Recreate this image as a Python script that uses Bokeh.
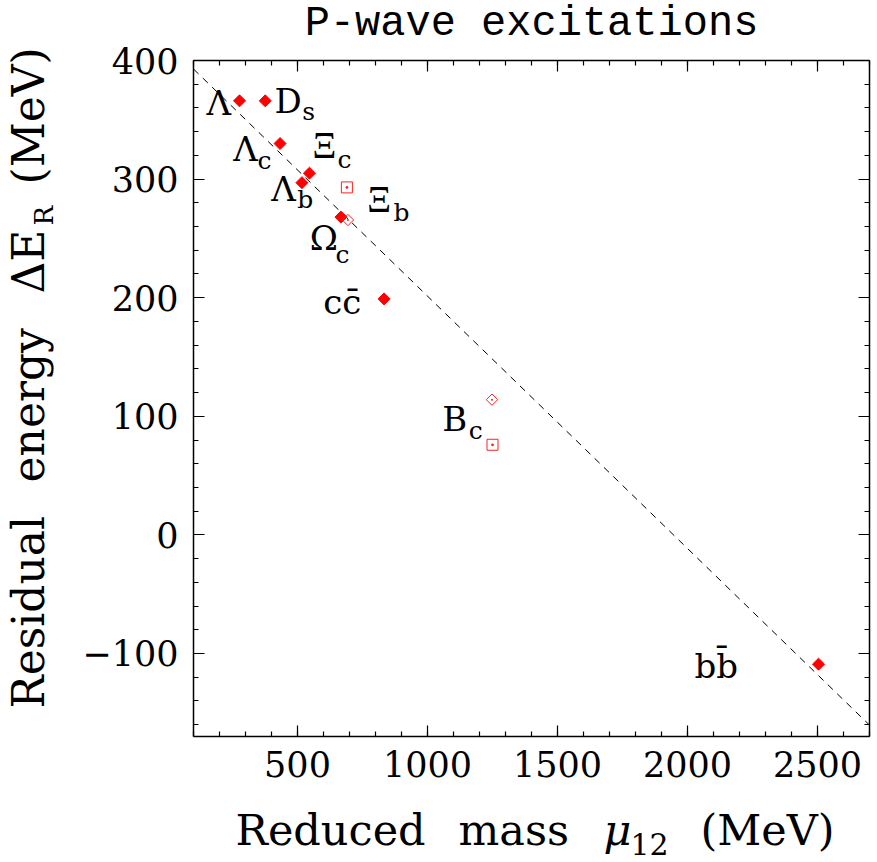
from math import pi
from bokeh.plotting import figure
from bokeh.models import Range1d, LinearAxis, Label, FixedTicker
from bokeh.embed import file_html
from bokeh.resources import INLINE

# ---- data ----
filled_mu = [277, 376, 433, 546, 517, 667, 833, 2504]
filled_dE = [366, 366, 330, 305, 297, 268, 199, -109]
open_diamond_mu = [694, 1248]
open_diamond_dE = [265.5, 114]
open_square_mu = [690, 1250]
open_square_dE = [293, 76]
fit_mu = [100, 2700]
fit_dE = [392.8, -160.4]

x_lim = (100, 2700)
y_lim = (-170, 400)
x_ticks = [500, 1000, 1500, 2000, 2500]
x_minor = list(range(100, 2701, 100))
y_ticks = [-100, 0, 100, 200, 300, 400]
y_minor = list(range(-160, 401, 20))

SERIF = "DejaVu Serif"
TIMES = "Liberation Serif"

# labels: (text, x, y, size, font)
point_labels = [
    ("Λ", 150, 355.3, 34, SERIF),
    ("D", 411.5, 357.3, 34, SERIF), ("s", 518, 350.3, 25, SERIF),
    ("Λ", 252.7, 316.3, 34, SERIF), ("c", 346, 309, 25, SERIF),
    ("Ξ", 557.7, 318.3, 37, TIMES), ("c", 654, 310, 25, SERIF),
    ("Λ", 399, 283, 34, SERIF), ("b", 499, 276.4, 25, SERIF),
    ("Ξ", 768, 272.8, 37, TIMES), ("b", 869, 265, 25, SERIF),
    ("Ω", 547, 241.4, 34, SERIF), ("c", 646, 230, 25, SERIF),
    ("cc\u0304", 599, 187.7, 34, SERIF),
    ("B", 1056.5, 88.9, 34, SERIF), ("c", 1159, 81.3, 25, SERIF),
    ("bb\u0304", 2027, -119.5, 34, SERIF),
]

K = 0.31   # baseline correction (fraction of font size)
W, H = 877, 862
BOX_L, BOX_R, BOX_T, BOX_B = 193, 869, 60, 736   # box edges in canvas pixels

# the drawing frame covers the whole canvas; the visible box is made by axes at fixed locations
sx = (BOX_R - BOX_L) / (x_lim[1] - x_lim[0])
sy = (BOX_B - BOX_T) / (y_lim[1] - y_lim[0])
x_range = Range1d(x_lim[0] - BOX_L / sx, x_lim[1] + (W - BOX_R) / sx)
y_range = Range1d(y_lim[0] - (H - BOX_B) / sy, y_lim[1] + BOX_T / sy)

p = figure(width=W, height=H, x_range=x_range, y_range=y_range,
           output_backend="svg", toolbar_location=None, x_axis_type=None, y_axis_type=None,
           min_border=0, min_border_left=0, min_border_right=0, min_border_top=0,
           min_border_bottom=0)
p.title.text = ""
p.title.visible = False
p.grid.visible = False
p.outline_line_color = None
p.background_fill_color = "white"
p.border_fill_color = "white"


def make_axis(ticks, minor, bounds, loc, labels, standoff):
    ax = LinearAxis(fixed_location=loc, bounds=bounds)
    ax.ticker = FixedTicker(ticks=ticks, minor_ticks=minor)
    ax.major_tick_in = 11
    ax.major_tick_out = 0
    ax.minor_tick_in = 5
    ax.minor_tick_out = 0
    ax.axis_line_width = 1.5
    ax.major_tick_line_width = 1.2
    ax.minor_tick_line_width = 1.2
    ax.axis_label = None
    if labels:
        ax.major_label_text_font = SERIF
        ax.major_label_text_font_size = "35px"
        ax.major_label_text_color = "black"
        ax.major_label_standoff = standoff
    else:
        ax.major_label_text_font_size = "0px"
        ax.major_label_text_alpha = 0
        ax.major_label_standoff = 0
    return ax


p.add_layout(make_axis(x_ticks, x_minor, x_lim, y_lim[0], True, 14), "below")
p.add_layout(make_axis(y_ticks, y_minor, y_lim, x_lim[0], True, 15), "left")
p.add_layout(make_axis(x_ticks, x_minor, x_lim, y_lim[1], False, 0), "above")
p.add_layout(make_axis(y_ticks, y_minor, y_lim, x_lim[1], False, 0), "right")

# fit line
p.line(fit_mu, fit_dE, line_color="black", line_width=1, line_dash="7 6")

# markers
p.scatter(filled_mu, filled_dE, marker="square", size=8.5, angle=pi / 4,
          fill_color="#ff0000", line_color="#ff0000")
p.scatter(open_diamond_mu, open_diamond_dE, marker="square_dot", size=8, angle=pi / 4,
          fill_color=None, line_color="#ff2020", line_width=1)
p.scatter(open_square_mu, open_square_dE, marker="square_dot", size=11,
          fill_color=None, line_color="#ff2020", line_width=1)

for txt, x, y, sz, fnt in point_labels:
    p.add_layout(Label(x=x, y=y, y_offset=K * sz, text=txt, text_font=fnt,
                       text_font_size=f"{sz}px", text_align="left",
                       text_baseline="alphabetic", text_color="black"))


# canvas-pixel helper for the titles around the box
def put(text, px, py, size, angle=0.0, style="normal", font=SERIF, align="left"):
    if angle == 0.0:
        py = py - K * size
    else:
        px = px - K * size
    p.add_layout(Label(x=px, y=py, x_units="canvas", y_units="canvas",
                       text=text, text_font=font, text_font_size=f"{size}px",
                       text_font_style=style, text_align=align, text_baseline="alphabetic",
                       angle=angle, text_color="black"))


# title
put("P-wave excitations", 531, 37, 42, font="Liberation Mono", align="center")

# x axis title
put("Reduced", 235, 843, 43)
put("mass", 458, 843, 43)
put("μ", 603, 843, 43, style="italic")
put("12", 630, 853, 30)
put("(MeV)", 700, 843, 43)

# y axis title (rotated)
put("Residual", 42, 708, 44, angle=pi / 2)
put("energy", 42, 482, 44, angle=pi / 2)
put("ΔE", 42, 293, 44, angle=pi / 2)
put("R", 52, 225, 26, angle=pi / 2)
put("(MeV)", 42, 184, 44, angle=pi / 2)

open("out.html", "w").write(file_html(p, INLINE))
